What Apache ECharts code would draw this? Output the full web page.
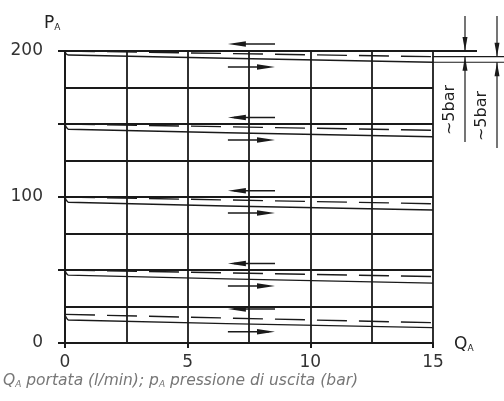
<!DOCTYPE html>
<html><head><meta charset="utf-8">
<script src="https://cdn.jsdelivr.net/npm/echarts@6/dist/echarts.min.js"></script>
<style>html,body{margin:0;padding:0;background:#fff}#c{width:504px;height:401px}</style>
</head><body><div id="c"></div>
<script>
// Data
const levels      = [200, 150, 100, 50, 19.6];      // start pressure of each curve pair
const dashedEnd   = [196.1, 145.7, 95.4, 45.5, 13.9];
const solidStart  = [197.3, 146.4, 96.4, 46.5, 15.8];
const solidEnd    = [192.3, 141.3, 91.1, 41.0, 10.5];
const arrowLeftY  = [204.8, 154.5, 104.3, 54.5, 23.3];
const arrowRightY = [189, 139, 89, 39, 7.7];
const arrowX      = [6.64, 8.56];
const xLabels     = [0, 5, 10, 15];
const yLabels     = [0, 100, 200];
const dimValues   = [200, 196.1, 192.3];   // dimension lines at right ("~5bar")

const INK = '#1a1a1a';
const chart = echarts.init(document.getElementById('c'), null, {renderer: 'canvas'});

const series = [];
levels.forEach((L, i) => {
  series.push({
    type: 'line', symbol: 'none', silent: true, z: 3,
    lineStyle: {color: INK, width: 1.4, type: [30, 12]},
    data: [[0, L], [15, dashedEnd[i]]]
  });
  series.push({
    type: 'line', symbol: 'none', silent: true, z: 3, smooth: 0.3,
    lineStyle: {color: INK, width: 1.4},
    data: [[0, L], [0.04, L - 1.8], [0.14, solidStart[i]], [15, solidEnd[i]]]
  });
});
// arrows: [fromX, toX, y]
const arrowData = [];
levels.forEach((L, i) => {
  arrowData.push([arrowX[1], arrowX[0], arrowLeftY[i]]);
  arrowData.push([arrowX[0], arrowX[1], arrowRightY[i]]);
});
series.push({
  type: 'custom', silent: true, clip: false, z: 4,
  data: arrowData,
  renderItem: function (params, api) {
    const a = api.coord([api.value(0), api.value(2)]);
    const b = api.coord([api.value(1), api.value(2)]);
    const d = b[0] > a[0] ? 1 : -1;
    const hl = 18, hw = 2.7;
    return {
      type: 'group',
      children: [
        {type: 'line', shape: {x1: a[0], y1: a[1], x2: b[0] - d * 6, y2: b[1]},
         style: {stroke: INK, lineWidth: 1.4}},
        {type: 'polygon', shape: {points: [[b[0], b[1]], [b[0] - d * hl, b[1] - hw], [b[0] - d * hl, b[1] + hw]]},
         style: {fill: INK}}
      ]
    };
  }
});

chart.setOption({
  animation: false,
  backgroundColor: '#fff',
  grid: {left: 65, right: 71, top: 51, bottom: 58},
  xAxis: {
    type: 'value', min: 0, max: 15, interval: 5,
    axisLine: {show: true, onZero: false, lineStyle: {color: INK, width: 2}},
    axisTick: {show: true, length: 5, lineStyle: {color: INK, width: 2}},
    axisLabel: {color: '#333', fontFamily: 'DejaVu Sans', fontSize: 17, margin: 11,
      formatter: v => xLabels.includes(v) ? String(v) : ''},
    splitLine: {show: true, lineStyle: {color: INK, width: 1.8}},
    minorTick: {show: false, splitNumber: 2},
    minorSplitLine: {show: true, lineStyle: {color: INK, width: 1.8}}
  },
  yAxis: {
    type: 'value', min: 0, max: 200, interval: 50,
    axisLine: {show: true, onZero: false, lineStyle: {color: INK, width: 2}},
    axisTick: {show: true, length: 7, lineStyle: {color: INK, width: 2}},
    axisLabel: {color: '#333', fontFamily: 'DejaVu Sans', fontSize: 17, margin: 22,
      formatter: v => yLabels.includes(v) ? String(v) : ''},
    splitLine: {show: true, lineStyle: {color: INK, width: 2}},
    minorTick: {show: false, splitNumber: 2},
    minorSplitLine: {show: true, lineStyle: {color: INK, width: 2}}
  },
  series: series
});

// Right-hand dimension annotation, positioned from data values
const p = v => chart.convertToPixel({gridIndex: 0}, [15, v]);
const xr = p(200)[0];
const yTop = p(dimValues[0])[1], yMid = p(dimValues[1])[1], yLow = p(dimValues[2])[1];
const lineSty = {stroke: INK, lineWidth: 1.2};
const X1 = xr + 32, X2 = xr + 64;
function head(x, y, dir) { // dir: +1 pointing down, -1 pointing up
  return {type: 'polygon', shape: {points: [[x, y], [x - 2.5, y - dir * 14], [x + 2.5, y - dir * 14]]}, style: {fill: INK}};
}
const g = [
  {type: 'line', shape: {x1: xr, y1: yTop, x2: xr + 44, y2: yTop}, style: {stroke: INK, lineWidth: 2}},
  {type: 'line', shape: {x1: xr, y1: yMid, x2: 504, y2: yMid}, style: lineSty},
  {type: 'line', shape: {x1: xr, y1: yLow, x2: 504, y2: yLow}, style: lineSty},
  {type: 'line', shape: {x1: X1, y1: 16, x2: X1, y2: yTop}, style: lineSty},
  head(X1, yTop, 1),
  {type: 'line', shape: {x1: X1, y1: yMid, x2: X1, y2: 142}, style: lineSty},
  head(X1, yMid, -1),
  {type: 'line', shape: {x1: X2, y1: 16, x2: X2, y2: yMid}, style: lineSty},
  head(X2, yMid, 1),
  {type: 'line', shape: {x1: X2, y1: yLow, x2: X2, y2: 148}, style: lineSty},
  head(X2, yLow, -1),
  {type: 'text', x: 450, y: 110, rotation: Math.PI / 2,
   style: {text: '~5bar', fill: '#222', font: '16px "DejaVu Sans"', align: 'center', verticalAlign: 'middle'}},
  {type: 'text', x: 482, y: 116, rotation: Math.PI / 2,
   style: {text: '~5bar', fill: '#222', font: '16px "DejaVu Sans"', align: 'center', verticalAlign: 'middle'}},
  {type: 'text', left: 44, top: 15,
   style: {text: '{m|P}{s|A}', rich: {
     m: {fontFamily: 'DejaVu Sans', fontSize: 17, fill: '#222', verticalAlign: 'bottom'},
     s: {fontFamily: 'DejaVu Sans', fontSize: 9, fill: '#222', padding: [6, 0, 0, 0], verticalAlign: 'bottom'}}}},
  {type: 'text', left: 454, top: 336,
   style: {text: '{m|Q}{s|A}', rich: {
     m: {fontFamily: 'DejaVu Sans', fontSize: 17, fill: '#222', verticalAlign: 'bottom'},
     s: {fontFamily: 'DejaVu Sans', fontSize: 9, fill: '#222', padding: [6, 0, 0, 0], verticalAlign: 'bottom'}}}},
  {type: 'text', left: 3, top: 373,
   style: {text: '{m|Q}{s|A}{m| portata (l/min); p}{s|A}{m| pressione di uscita (bar)}', rich: {
     m: {fontFamily: 'DejaVu Sans', fontStyle: 'italic', fontSize: 15.5, fill: '#777', verticalAlign: 'bottom'},
     s: {fontFamily: 'DejaVu Sans', fontStyle: 'italic', fontSize: 9, fill: '#777', padding: [5, 0, 0, 0], verticalAlign: 'bottom'}}}}
];
chart.setOption({graphic: g});
</script></body></html>
